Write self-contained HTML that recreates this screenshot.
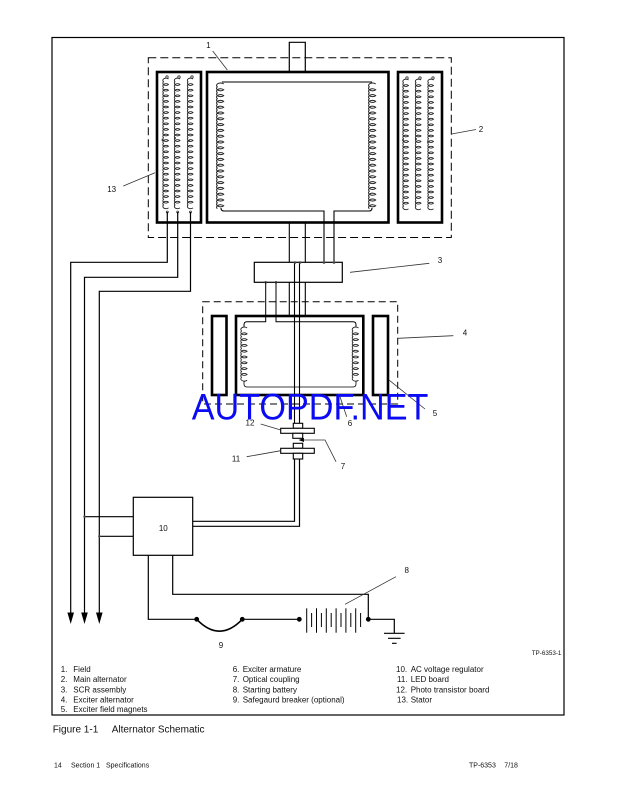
<!DOCTYPE html>
<html>
<head>
<meta charset="utf-8">
<style>
html,body{margin:0;padding:0;background:#fff;}
svg{display:block;}
text{font-family:"Liberation Sans",Arial,sans-serif;fill:#111;}
</style>
</head>
<body>
<svg width="621" height="811" viewBox="0 0 621 811" xmlns="http://www.w3.org/2000/svg">
<defs>
<path id="cc" fill="none" stroke="#222" stroke-width="1" d="M3.2,0 a3.2,2 0 0 0 -6.4,2.9 a3.2,2 0 0 0 6.4,2.9 a3.2,2 0 0 0 -6.4,2.9 a3.2,2 0 0 0 6.4,2.9 a3.2,2 0 0 0 -6.4,2.9 a3.2,2 0 0 0 6.4,2.9 a3.2,2 0 0 0 -6.4,2.9 a3.2,2 0 0 0 6.4,2.9 a3.2,2 0 0 0 -6.4,2.9 a3.2,2 0 0 0 6.4,2.9 a3.2,2 0 0 0 -6.4,2.9 a3.2,2 0 0 0 6.4,2.9 a3.2,2 0 0 0 -6.4,2.9 a3.2,2 0 0 0 6.4,2.9 a3.2,2 0 0 0 -6.4,2.9 a3.2,2 0 0 0 6.4,2.9 a3.2,2 0 0 0 -6.4,2.9 a3.2,2 0 0 0 6.4,2.9 a3.2,2 0 0 0 -6.4,2.9 a3.2,2 0 0 0 6.4,2.9 a3.2,2 0 0 0 -6.4,2.9 a3.2,2 0 0 0 6.4,2.9 a3.2,2 0 0 0 -6.4,2.9 a3.2,2 0 0 0 6.4,2.9 a3.2,2 0 0 0 -6.4,2.9 a3.2,2 0 0 0 6.4,2.9 a3.2,2 0 0 0 -6.4,2.9 a3.2,2 0 0 0 6.4,2.9 a3.2,2 0 0 0 -6.4,2.9 a3.2,2 0 0 0 6.4,2.9 a3.2,2 0 0 0 -6.4,2.9 a3.2,2 0 0 0 6.4,2.9 a3.2,2 0 0 0 -6.4,2.9 a3.2,2 0 0 0 6.4,2.9 a3.2,2 0 0 0 -6.4,2.9 a3.2,2 0 0 0 6.4,2.9 a3.2,2 0 0 0 -6.4,2.9 a3.2,2 0 0 0 6.4,2.9 a3.2,2 0 0 0 -6.4,2.9 a3.2,2 0 0 0 6.4,2.9 a3.2,2 0 0 0 -6.4,2.9 a3.2,2 0 0 0 6.4,2.9 a3.2,2 0 0 0 -6.4,2.9"/>
<path id="sc" fill="none" stroke="#222" stroke-width="0.9" d="M2.5,0 a2.5,1.8 0 0 0 -5,2.8 a2.5,1.8 0 0 0 5,2.8 a2.5,1.8 0 0 0 -5,2.8 a2.5,1.8 0 0 0 5,2.8 a2.5,1.8 0 0 0 -5,2.8 a2.5,1.8 0 0 0 5,2.8 a2.5,1.8 0 0 0 -5,2.8 a2.5,1.8 0 0 0 5,2.8 a2.5,1.8 0 0 0 -5,2.8 a2.5,1.8 0 0 0 5,2.8 a2.5,1.8 0 0 0 -5,2.8 a2.5,1.8 0 0 0 5,2.8 a2.5,1.8 0 0 0 -5,2.8 a2.5,1.8 0 0 0 5,2.8 a2.5,1.8 0 0 0 -5,2.8 a2.5,1.8 0 0 0 5,2.8 a2.5,1.8 0 0 0 -5,2.8 a2.5,1.8 0 0 0 5,2.8 a2.5,1.8 0 0 0 -5,2.8 a2.5,1.8 0 0 0 5,2.8 a2.5,1.8 0 0 0 -5,2.8 a2.5,1.8 0 0 0 5,2.8 a2.5,1.8 0 0 0 -5,2.8 a2.5,1.8 0 0 0 5,2.8 a2.5,1.8 0 0 0 -5,2.8 a2.5,1.8 0 0 0 5,2.8 a2.5,1.8 0 0 0 -5,2.8 a2.5,1.8 0 0 0 5,2.8 a2.5,1.8 0 0 0 -5,2.8 a2.5,1.8 0 0 0 5,2.8 a2.5,1.8 0 0 0 -5,2.8 a2.5,1.8 0 0 0 5,2.8 a2.5,1.8 0 0 0 -5,2.8 a2.5,1.8 0 0 0 5,2.8 a2.5,1.8 0 0 0 -5,2.8 a2.5,1.8 0 0 0 5,2.8 a2.5,1.8 0 0 0 -5,2.8 a2.5,1.8 0 0 0 5,2.8 a2.5,1.8 0 0 0 -5,2.8 a2.5,1.8 0 0 0 5,2.8 a2.5,1.8 0 0 0 -5,2.8 a2.5,1.8 0 0 0 5,2.8 a2.5,1.8 0 0 0 -5,2.8 a2.5,1.8 0 0 0 5,2.8 a2.5,1.8 0 0 0 -5,2.8 a2.5,1.8 0 0 0 5,2.8"/>
<path id="ec" fill="none" stroke="#222" stroke-width="0.9" d="M2.8,0 a2.8,1.9 0 0 0 -5.6,2.9 a2.8,1.9 0 0 0 5.6,2.9 a2.8,1.9 0 0 0 -5.6,2.9 a2.8,1.9 0 0 0 5.6,2.9 a2.8,1.9 0 0 0 -5.6,2.9 a2.8,1.9 0 0 0 5.6,2.9 a2.8,1.9 0 0 0 -5.6,2.9 a2.8,1.9 0 0 0 5.6,2.9 a2.8,1.9 0 0 0 -5.6,2.9 a2.8,1.9 0 0 0 5.6,2.9 a2.8,1.9 0 0 0 -5.6,2.9 a2.8,1.9 0 0 0 5.6,2.9 a2.8,1.9 0 0 0 -5.6,2.9 a2.8,1.9 0 0 0 5.6,2.9 a2.8,1.9 0 0 0 -5.6,2.9 a2.8,1.9 0 0 0 5.6,2.9 a2.8,1.9 0 0 0 -5.6,2.9 a2.8,1.9 0 0 0 5.6,2.9"/>
</defs>

<!-- outer frame -->
<rect x="52" y="37.5" width="512" height="677.5" fill="none" stroke="#000" stroke-width="1.2"/>

<!-- main alternator dashed box -->
<rect x="148.3" y="57.7" width="303" height="179.8" fill="none" stroke="#000" stroke-width="1" stroke-dasharray="8 4"/>

<!-- shaft top -->
<path d="M289.3,72 V42.3 H305.3 V72" fill="none" stroke="#000" stroke-width="1.2"/>

<!-- thick boxes -->
<rect x="157" y="72" width="44" height="150.5" fill="none" stroke="#000" stroke-width="2.6"/>
<rect x="207" y="72" width="181.5" height="150.5" fill="none" stroke="#000" stroke-width="2.6"/>
<rect x="398" y="72" width="44" height="150.5" fill="none" stroke="#000" stroke-width="2.6"/>

<!-- stator coils -->
<use href="#sc" x="166" y="79"/>
<use href="#sc" x="177.5" y="79"/>
<use href="#sc" x="190.5" y="79"/>
<use href="#sc" x="406" y="80"/>
<use href="#sc" x="418.5" y="80"/>
<use href="#sc" x="431" y="80"/>
<g fill="#fff" stroke="#333" stroke-width="0.8">
<circle cx="167" cy="77" r="1.2"/><circle cx="179" cy="77" r="1.2"/><circle cx="192" cy="77" r="1.2"/>
<circle cx="407" cy="78" r="1.2"/><circle cx="420" cy="78" r="1.2"/><circle cx="433" cy="78" r="1.2"/>
<circle cx="167.3" cy="212" r="1"/><circle cx="177.7" cy="212" r="1"/><circle cx="190.5" cy="212" r="1"/>
</g>
<g fill="#333">
<circle cx="162.5" cy="140" r="1"/><circle cx="175" cy="138" r="1"/><circle cx="189" cy="141" r="1"/>
<circle cx="403" cy="140" r="1"/><circle cx="416" cy="139" r="1"/><circle cx="428" cy="142" r="1"/>
</g>

<!-- main field coils -->
<use href="#cc" x="220.5" y="84"/>
<use href="#cc" x="372.5" y="84"/>
<path d="M222,82 H372" fill="none" stroke="#000" stroke-width="1"/>
<path d="M221,208 q0,3 3,3 H324 V262.3" fill="none" stroke="#000" stroke-width="1.1"/>
<path d="M334,262.3 V211 H369 q3,0 3,-3" fill="none" stroke="#000" stroke-width="1.1"/>

<!-- shaft lines -->
<g stroke="#000" stroke-width="1.1" fill="none">
<path d="M289.3,222.7 V262.3 M305.3,222.7 V262.3"/>
<path d="M289.3,282.3 V315.7 M305.3,282.3 V315.7"/>
<path d="M294.5,262.3 V423.3 M299.5,262.3 V423.3"/>
</g>

<!-- SCR -->
<rect x="254.3" y="262.3" width="88" height="20" fill="none" stroke="#000" stroke-width="1.2"/>
<g fill="#444">
<circle cx="295" cy="262.5" r="1.3"/><circle cx="300" cy="262.5" r="1.3"/>
<circle cx="324" cy="262.5" r="1.3"/><circle cx="334" cy="262.5" r="1.3"/>
<circle cx="265.7" cy="282.3" r="1.3"/><circle cx="276" cy="282.3" r="1.3"/>
</g>

<!-- exciter dashed box -->
<rect x="202.7" y="301.7" width="195" height="102.3" fill="none" stroke="#000" stroke-width="1" stroke-dasharray="7 4"/>
<rect x="212" y="316" width="14.5" height="79" fill="none" stroke="#000" stroke-width="2.6"/>
<rect x="373" y="316" width="15" height="79" fill="none" stroke="#000" stroke-width="2.6"/>
<rect x="236" y="316" width="127.3" height="79" fill="none" stroke="#000" stroke-width="2.6"/>

<!-- armature winding -->
<path d="M265.7,282.3 V321.7 H247 q-3,0 -3,3 V327" fill="none" stroke="#000" stroke-width="1"/>
<path d="M276,282.3 V321.7 H353 q3,0 3,3 V327" fill="none" stroke="#000" stroke-width="1"/>
<use href="#ec" x="244.3" y="328"/>
<use href="#ec" x="355.7" y="328"/>
<path d="M244,381 V384 q0,3 3,3 H353 q3,0 3,-3 V381" fill="none" stroke="#000" stroke-width="0.8"/>

<!-- optical coupling boards -->
<g fill="#fff" stroke="#000" stroke-width="1.1">
<rect x="293.3" y="423.3" width="9.4" height="5"/>
<rect x="280.7" y="428.3" width="33.6" height="5"/>
<rect x="292.8" y="433.3" width="9.9" height="5"/>
<rect x="293.3" y="443.3" width="9.4" height="5"/>
<rect x="280.7" y="448.3" width="33.6" height="5"/>
<rect x="293.3" y="453.3" width="9.4" height="5.7"/>
</g>
<path d="M298.5,440 L304,438 L304,442 Z" fill="#000"/>
<path d="M303,440 H325 L336,461.7" fill="none" stroke="#333" stroke-width="0.8"/>

<!-- wires to regulator -->
<path d="M192.7,521.3 H294.5 V459 M192.7,526.3 H299.5 V459" fill="none" stroke="#000" stroke-width="1.2"/>

<!-- regulator box -->
<rect x="133.3" y="497.3" width="59.4" height="58" fill="none" stroke="#000" stroke-width="1.2"/>

<!-- stator output wires & arrows -->
<g fill="none" stroke="#000" stroke-width="1.2">
<path d="M167.3,212 V262.3 H70.7 V614"/>
<path d="M177.7,212 V277.3 H84.5 V614"/>
<path d="M190.5,212 V291.3 H99.3 V614"/>
<path d="M133.3,516.7 H84.5 M133.3,536.3 H99.3"/>
</g>
<circle cx="84.5" cy="516.7" r="1.2" fill="#444"/>
<circle cx="99.3" cy="536.3" r="1.2" fill="#444"/>
<g fill="#000">
<path d="M67.4,612.5 H74 L70.7,624 Z"/>
<path d="M81.2,612.5 H87.8 L84.5,624 Z"/>
<path d="M96,612.5 H102.6 L99.3,624 Z"/>
</g>

<!-- battery circuit -->
<g fill="none" stroke="#000" stroke-width="1.2">
<path d="M148.3,555.3 V619.3 H196.7"/>
<path d="M172.7,555.3 V594.3 H368.3 V619.3"/>
<path d="M242.3,619.3 H299.3"/>
<path d="M196.7,619.3 Q219.5,643 242.3,619.3" stroke-width="1.6"/>
<path d="M368.3,619.3 H394.3 V633.3"/>
<path d="M384,633.3 H404.6 M388,638.3 H400.6 M392,643.3 H396.6"/>
</g>
<g stroke="#000" stroke-width="1">
<line x1="306.7" y1="608.3" x2="306.7" y2="632.7"/>
<line x1="311.6" y1="613" x2="311.6" y2="627"/>
<line x1="316.5" y1="608.3" x2="316.5" y2="632.7"/>
<line x1="321.4" y1="613" x2="321.4" y2="627"/>
<line x1="326.3" y1="608.3" x2="326.3" y2="632.7"/>
<line x1="331.2" y1="613" x2="331.2" y2="627"/>
<line x1="336.1" y1="608.3" x2="336.1" y2="632.7"/>
<line x1="341" y1="613" x2="341" y2="627"/>
<line x1="345.9" y1="608.3" x2="345.9" y2="632.7"/>
<line x1="350.8" y1="613" x2="350.8" y2="627"/>
<line x1="355.7" y1="608.3" x2="355.7" y2="632.7"/>
<line x1="360.6" y1="613" x2="360.6" y2="627"/>
</g>
<g fill="#000">
<circle cx="196.7" cy="619.3" r="2.4"/>
<circle cx="242.3" cy="619.3" r="2.4"/>
<circle cx="299.3" cy="619.3" r="2.4"/>
<circle cx="368.3" cy="619.3" r="2.4"/>
</g>

<!-- leader lines -->
<g stroke="#333" stroke-width="0.8" fill="none">
<line x1="212.7" y1="51" x2="227.3" y2="70"/>
<line x1="451.5" y1="134" x2="476" y2="129.5"/>
<line x1="350" y1="272.3" x2="429.3" y2="263.3"/>
<line x1="397.7" y1="338.3" x2="453.3" y2="335.7"/>
<line x1="389" y1="380" x2="425" y2="409"/>
<line x1="340" y1="396.7" x2="346.7" y2="416.7"/>
<line x1="246.7" y1="456.7" x2="280.7" y2="450.7"/>
<line x1="260.7" y1="424" x2="280.7" y2="430"/>
<line x1="123.3" y1="186" x2="155" y2="172.7"/>
<line x1="345" y1="604.3" x2="396" y2="576.7"/>
</g>

<!-- callout labels -->
<g font-size="8" text-anchor="middle">
<text x="208.3" y="48">1</text>
<text x="481" y="132">2</text>
<text x="440" y="263">3</text>
<text x="465" y="335.5">4</text>
<text x="435" y="416">5</text>
<text x="350" y="426">6</text>
<text x="343" y="469">7</text>
<text x="406.7" y="573">8</text>
<text x="221" y="648">9</text>
<text x="163.3" y="531">10</text>
<text x="236" y="461.5">11</text>
<text x="250" y="425.5">12</text>
<text x="111.7" y="192">13</text>
</g>

<text x="531.7" y="655" font-size="6.3">TP-6353-1</text>

<!-- legend -->
<g font-size="8">
<text x="60.7" y="672">1.</text><text x="73.3" y="672">Field</text>
<text x="60.7" y="682">2.</text><text x="73.3" y="682">Main alternator</text>
<text x="60.7" y="692.3">3.</text><text x="73.3" y="692.3">SCR assembly</text>
<text x="60.7" y="702.5">4.</text><text x="73.3" y="702.5">Exciter alternator</text>
<text x="60.7" y="712">5.</text><text x="73.3" y="712">Exciter field magnets</text>

<text x="232.7" y="672">6.</text><text x="242.7" y="672">Exciter armature</text>
<text x="232.7" y="682">7.</text><text x="242.7" y="682">Optical coupling</text>
<text x="232.7" y="692.3">8.</text><text x="242.7" y="692.3">Starting battery</text>
<text x="232.7" y="702.5">9.</text><text x="242.7" y="702.5">Safegaurd breaker (optional)</text>

<text x="396" y="672">10.</text><text x="410.7" y="672">AC voltage regulator</text>
<text x="397" y="682">11.</text><text x="410.7" y="682">LED board</text>
<text x="396" y="692.3">12.</text><text x="410.7" y="692.3">Photo transistor board</text>
<text x="397" y="702.5">13.</text><text x="410.7" y="702.5">Stator</text>
</g>

<!-- caption -->
<text x="52.7" y="732.5" font-size="10">Figure 1-1</text>
<text x="111.7" y="732.5" font-size="10">Alternator Schematic</text>

<!-- footer -->
<g font-size="7">
<text x="54" y="767.5">14</text>
<text x="71" y="767.5">Section 1</text>
<text x="106" y="767.5">Specifications</text>
<text x="469" y="767.5">TP-6353</text>
<text x="504.3" y="767.5">7/18</text>
</g>

<!-- watermark -->
<text x="191.7" y="419.3" font-size="36.6" textLength="236.7" lengthAdjust="spacingAndGlyphs" style="fill:#0a0af5">AUTOPDF.NET</text>
</svg>
</body>
</html>
